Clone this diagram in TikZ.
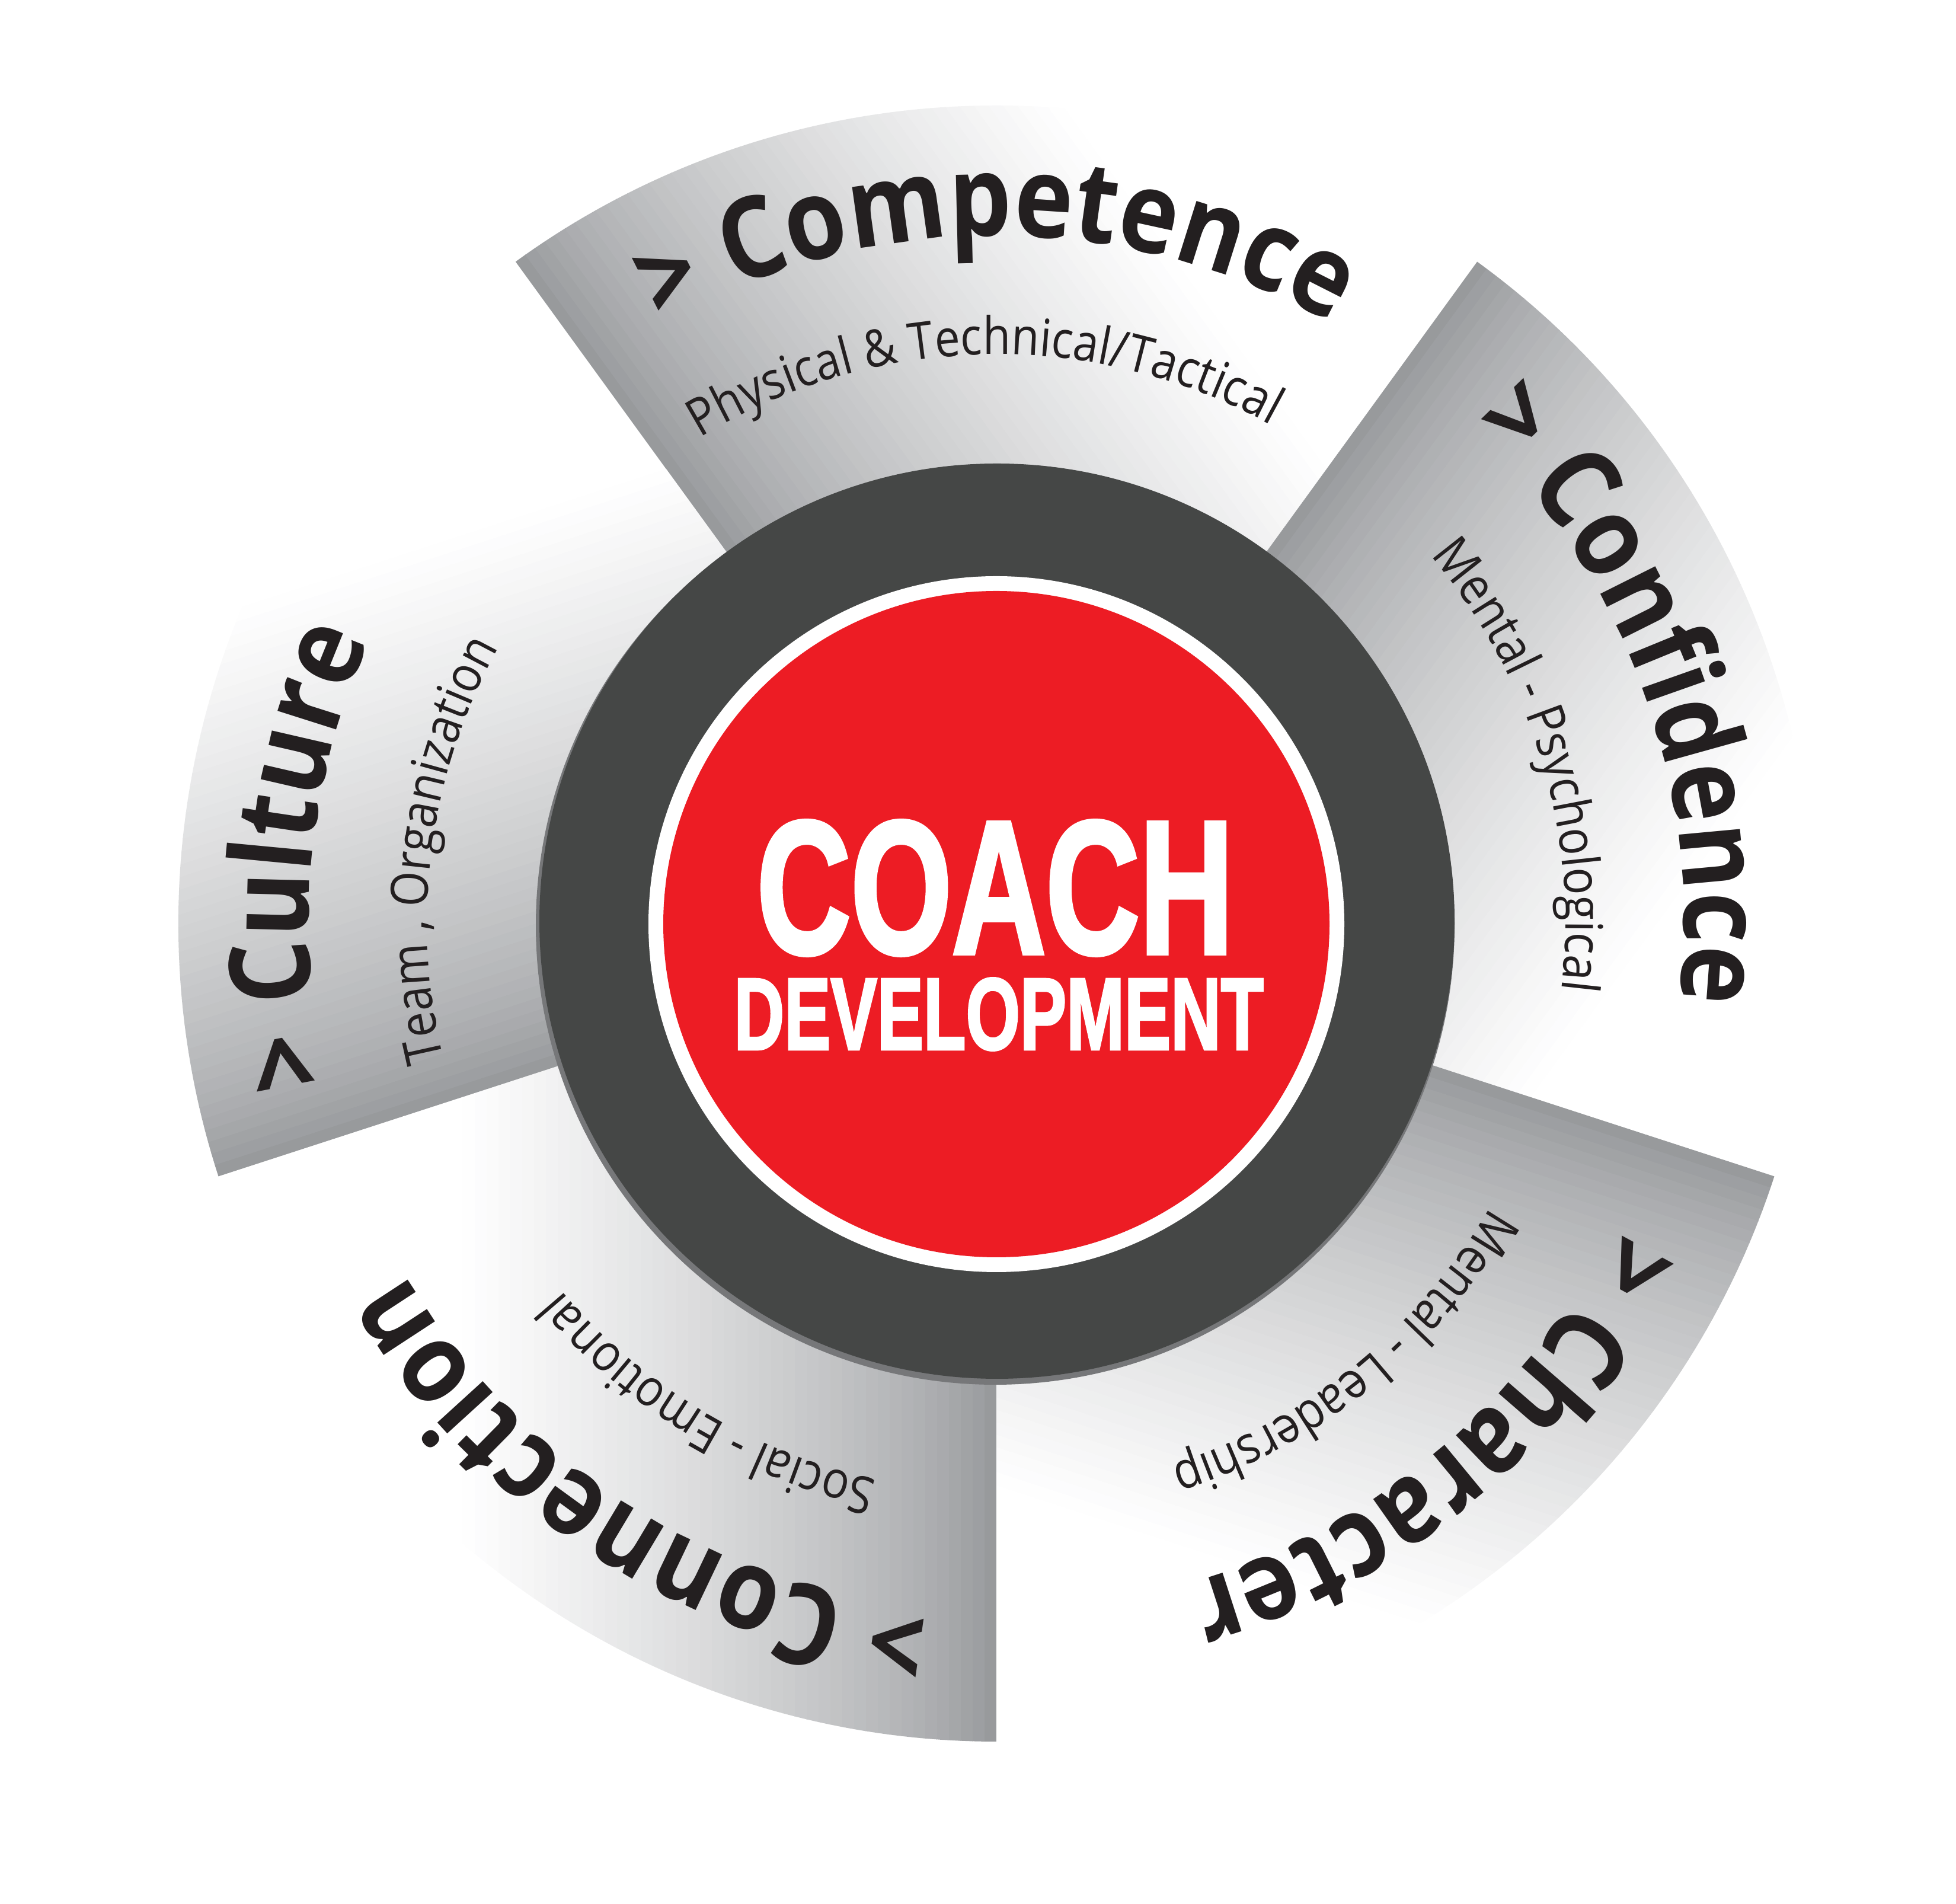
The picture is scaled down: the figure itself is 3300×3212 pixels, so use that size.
\documentclass[tikz,border=0pt]{standalone}
\usepackage{fontspec}
\usepackage{graphicx}
\setmainfont{Open Sans}
\newfontfamily\osfam{Open Sans}[FakeStretch=0.88]
\newfontfamily\coachfont{Liberation Sans}[FakeBold=2.5]
\usetikzlibrary{decorations.text}
\definecolor{segGray}{RGB}{147,149,152}
\definecolor{ringDark}{RGB}{69,71,70}
\definecolor{ringShadow}{RGB}{118,119,121}
\definecolor{coachRed}{RGB}{237,28,36}
\definecolor{inkBlack}{RGB}{35,31,32}
\newcommand\titlefnt{\fontsize{47.5pt}{50pt}\selectfont\osfam\bfseries}
\newcommand\subfnt{\fontsize{21.75pt}{24pt}\selectfont\osfam}
\tikzset{
  titletext/.style={decorate, decoration={text along path, text align=center, text color=inkBlack, text={|\titlefnt|#1}}},
  subtext/.style={decorate, decoration={text along path, text align=center, text color=inkBlack, text={|\subfnt|#1}}},
  centertext/.style={inner sep=0pt, text=white},
}
\begin{document}
\begin{tikzpicture}[x=0.25pt, y=0.25pt]
\useasboundingbox (0,0) rectangle (3300,3212);
\fill[white] (0,0) rectangle (3300,3212);
\coordinate (C) at (1681,1654);
% five shaded segments
\foreach \a/\b/\r in {126/54/36, 54/-18/-36, -18/-90/-108, -90/-162/-180, -162/-234/-252}{
  \begin{scope}
    \clip (C) -- ++(\a:1380) arc[start angle=\a, end angle=\b, radius=1380] -- cycle;
    \begin{scope}[shift={(C)}, rotate=\r]
      \foreach \i in {0,...,44}{
        \pgfmathsetmacro\f{100*(1-pow((\i+0.5)/45,0.7))}
        \fill[segGray!\f!white] (\i*20,-1500) -- (\i*20+21,-1500) -- (\i*20+21,1500) -- (\i*20,1500) -- cycle;
      }
    \end{scope}
  \end{scope}
}
% central rings
\coordinate (Cs) at (1679,1651);
\coordinate (Cd) at (1682,1658);
\coordinate (Cr) at (1681,1653);
\fill[ringShadow] (Cs) circle[radius=775];
\fill[ringDark] (Cd) circle[radius=772];
\fill[white] (Cr) circle[radius=587];
\fill[coachRed] (Cr) circle[radius=562];
\node[centertext] (coach) at (1679,1714) {\resizebox{201pt}{55.75pt}{\coachfont\bfseries COACH}};
\node[centertext] (dev) at (1685,1501) {\resizebox{223.25pt}{30pt}{\coachfont\bfseries DEVELOPMENT}};
% titles
\path[titletext={> Competence}] (C) ++(150:1160) arc[start angle=150, end angle=30, radius=1160];
\path[titletext={> Confidence}] (C) ++(80:1160) arc[start angle=80, end angle=-40, radius=1160];
\path[titletext={> Character}] (C) ++(10:1160) arc[start angle=10, end angle=-110, radius=1160];
\path[titletext={> Connection}] (C) ++(-62.5:1160) arc[start angle=-62.5, end angle=-182.5, radius=1160];
\path[titletext={> Culture}] (C) ++(234.5:1160) arc[start angle=234.5, end angle=114.5, radius=1160];
% subtitles
\path[subtext={Physical {\&} Technical/Tactical}] (C) ++(151.3:960) arc[start angle=151.3, end angle=31.3, radius=960];
\path[subtext={Mental - Psychological}] (C) ++(76.8:960) arc[start angle=76.8, end angle=-43.2, radius=960];
\path[subtext={Mental - Leadership}] (C) ++(9:960) arc[start angle=9, end angle=-111, radius=960];
\path[subtext={Social - Emotional}] (C) ++(-61:960) arc[start angle=-61, end angle=-181, radius=960];
\path[subtext={Team , Organization}] (C) ++(232.4:960) arc[start angle=232.4, end angle=112.4, radius=960];
\end{tikzpicture}
\end{document}
